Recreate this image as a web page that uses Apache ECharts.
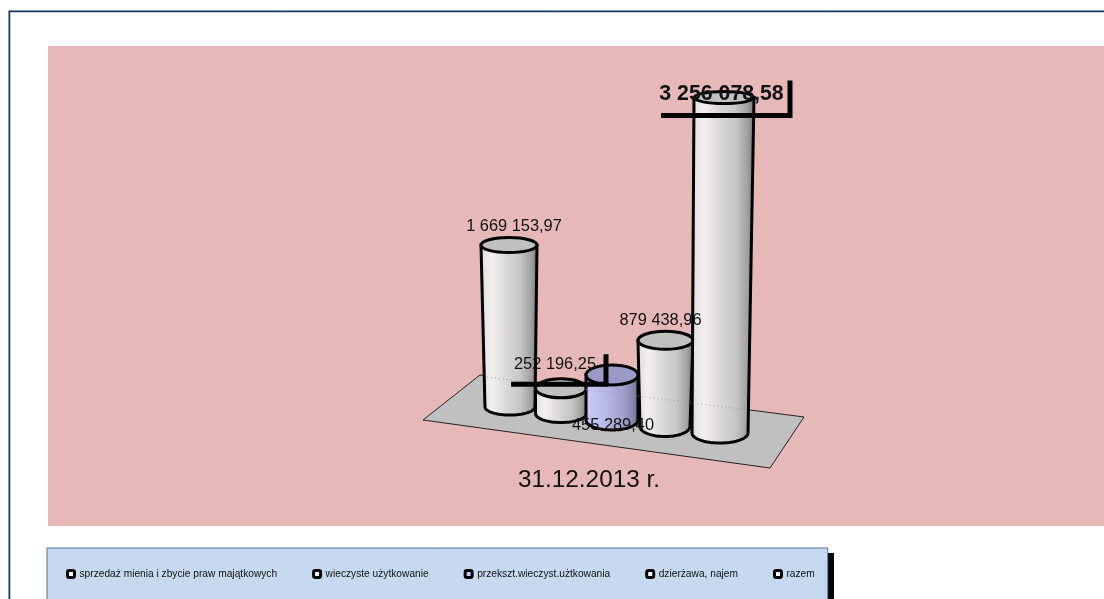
<!DOCTYPE html>
<html>
<head>
<meta charset="utf-8">
<style>
  html, body { margin: 0; padding: 0; background: #fff; overflow: hidden; }
  #chart { width: 1104px; height: 599px; }
</style>
</head>
<body>
<div id="chart"></div>
<script src="https://cdn.jsdelivr.net/npm/echarts@6/dist/echarts.min.js"></script>
<script>
const categories = ['31.12.2013 r.']
const seriesNames = [
  'sprzedaż mienia i zbycie praw majątkowych',
  'wieczyste użytkowanie',
  'przekszt.wieczyst.użtkowania',
  'dzierżawa, najem',
  'razem',
]
const sprzedaz = [1669153.97]
const wieczyste = [252196.25]
const przeksztalcenie = [455289.4]
const dzierzawa = [879438.96]
const razem = [3256078.58]
const seriesValues = [sprzedaz, wieczyste, przeksztalcenie, dzierzawa, razem]

const font = '"Liberation Sans", Arial, sans-serif'

// fake 3D: every cylinder sits a bit lower and is a bit taller than a flat axis would give
const baseDrop = 6.5
const cylinders = [
  { dx: -79, lean: -1, topW: 56, baseW: 50, topRy: 7.5, baseRy: 8, grow: 0.97 },
  { dx: -28, lean: 0, topW: 51, baseW: 51, topRy: 9.5, baseRy: 9, grow: 1 },
  { dx: 23, lean: 0, topW: 52, baseW: 52, topRy: 10, baseRy: 10, grow: 0.99 },
  { dx: 76, lean: 0.5, topW: 55, baseW: 50, topRy: 9, baseRy: 10, grow: 0.98 },
  { dx: 131, lean: 4, topW: 60, baseW: 56, topRy: 6, baseRy: 10, grow: 1.03 },
]
const whiteFill = ['#bcbcbc', '#e4e2e2', '#f4f0f0', '#dad8d8', '#c6c4c4', '#a0a0a0', '#6c6c6c']
const blueFill = ['#a8a8de', '#c8c8f6', '#c4c4f2', '#b4b4e2', '#a0a0cc', '#8686ac', '#64648a']
const stopAt = [0, 0.07, 0.2, 0.45, 0.7, 0.88, 1]

const labelPlaces = [
  { dx: 5, dy: -19, size: 16.4 },
  { dx: -6, dy: -24, size: 16.4, box: { left: -44, right: 51, top: -10, bottom: 20 } },
  { dx: 1, dy: 51, size: 16.4 },
  { dx: -5, dy: -20, size: 16.4 },
  { dx: -2.5, dy: -4, size: 21.3, bold: true, box: { left: -60.5, right: 68.5, top: -13, bottom: 22 } },
]

const formatValue = (v) => {
  const parts = v.toFixed(2).split('.')
  return parts[0].replace(/\B(?=(\d{3})+$)/g, ' ') + ',' + parts[1]
}

const barTop = (api, i, value) => {
  const c = cylinders[i]
  const zero = api.coord([0, 0])
  const point = api.coord([0, value])
  const baseY = zero[1] + baseDrop * i
  return { baseX: zero[0] + c.dx, baseY, x: zero[0] + c.dx + c.lean, y: baseY - (zero[1] - point[1]) * c.grow }
}

const renderCylinder = (i) => (params, api) => {
  const c = cylinders[i]
  const t = barTop(api, i, api.value(1))
  const points = [[t.x - c.topW / 2, t.y], [t.x + c.topW / 2, t.y]]
  for (let a = 0; a <= 36; a++) {
    const angle = (a / 36) * Math.PI
    points.push([t.baseX + (Math.cos(angle) * c.baseW) / 2, t.baseY + Math.sin(angle) * c.baseRy])
  }
  const colors = i === 2 ? blueFill : whiteFill
  return {
    type: 'group',
    children: [
      {
        type: 'polygon',
        shape: { points },
        style: {
          fill: new echarts.graphic.LinearGradient(0, 0, 1, 0, colors.map((color, k) => ({ offset: stopAt[k], color }))),
          stroke: '#000',
          lineWidth: 3,
        },
      },
      {
        type: 'ellipse',
        shape: { cx: t.x, cy: t.y, rx: c.topW / 2, ry: c.topRy },
        style: { fill: i === 2 ? '#9a9ac6' : '#c0c0c0', stroke: '#000', lineWidth: 3 },
      },
    ],
  }
}

// labels go in their own series because they lie over all cylinders
const renderLabel = (params, api) => {
  const i = params.dataIndex
  const place = labelPlaces[i]
  const t = barTop(api, i, api.value(1))
  const x = t.x + place.dx
  const y = t.y + place.dy
  const children = [
    {
      type: 'text',
      style: {
        x,
        y,
        text: formatValue(api.value(1)),
        fill: '#111',
        align: 'center',
        verticalAlign: 'middle',
        font: (place.bold ? 'bold ' : '') + place.size + 'px ' + font,
      },
    },
  ]
  if (place.box) {
    children.push({
      type: 'polyline',
      shape: {
        points: [
          [x + place.box.left, y + place.box.bottom],
          [x + place.box.right, y + place.box.bottom],
          [x + place.box.right, y + place.box.top],
        ],
      },
      style: { stroke: '#000', lineWidth: 5, fill: null },
    })
  }
  return { type: 'group', children }
}

const legendIcon = (name, i) => ({
  name,
  itemStyle: { color: i === 2 ? '#c8c8f6' : '#fff', borderColor: '#000', borderWidth: 3 },
})

const chart = echarts.init(document.getElementById('chart'))
chart.setOption({
  animation: false,
  backgroundColor: '#fff',
  grid: { left: 430, right: 356, top: 67, bottom: 192 },
  xAxis: {
    type: 'category',
    data: categories,
    axisLine: { show: false },
    axisTick: { show: false },
    axisLabel: { color: '#111', fontFamily: font, fontSize: 24.3, margin: 61 },
  },
  yAxis: { type: 'value', min: 0, max: 3400000, show: false, splitLine: { show: false } },
  legend: {
    left: 47,
    top: 548,
    padding: [21, 13, 40, 19],
    itemGap: 35,
    itemWidth: 7,
    itemHeight: 7,
    icon: 'roundRect',
    backgroundColor: '#c6d9f1',
    borderColor: '#5a7490',
    borderWidth: 1,
    selectedMode: false,
    textStyle: { color: '#111', fontFamily: font, fontSize: 10.2 },
    data: seriesNames.map(legendIcon),
  },
  graphic: [
    { type: 'rect', z: -3, shape: { x: 8.5, y: 10.5, width: 1200, height: 700 }, style: { fill: null, stroke: '#a8b8c8', lineWidth: 1 } },
    { type: 'rect', z: -3, shape: { x: 9.5, y: 11.5, width: 1200, height: 700 }, style: { fill: '#fff', stroke: '#17375e', lineWidth: 1.5 } },
    { type: 'rect', z: -2, shape: { x: 48, y: 46, width: 1056, height: 480 }, style: { fill: '#e6b8b7' } },
    { type: 'rect', z: -1, shape: { x: 826, y: 553, width: 8, height: 50 }, style: { fill: '#000' } },
    {
      type: 'polygon',
      z: -1,
      shape: { points: [[480, 375], [804, 417], [770, 468], [423, 420]] },
      style: { fill: '#c0c0c0', stroke: '#222', lineWidth: 1 },
    },
    {
      type: 'line',
      z: 8,
      shape: { x1: 487, y1: 377, x2: 748, y2: 410 },
      style: { stroke: '#999', lineWidth: 1, lineDash: [1, 3] },
    },
  ],
  series: [
    ...seriesNames.map((name, i) => ({
      name,
      type: 'custom',
      z: 2 + i,
      renderItem: renderCylinder(i),
      encode: { x: 0, y: 1 },
      data: seriesValues[i].map((v, k) => [categories[k], v]),
    })),
    {
      type: 'custom',
      z: 10,
      renderItem: renderLabel,
      encode: { x: 0, y: 1 },
      data: seriesValues.map((values) => [categories[0], values[0]]),
    },
  ],
})
window.addEventListener('resize', () => chart.resize())
</script>
</body>
</html>
